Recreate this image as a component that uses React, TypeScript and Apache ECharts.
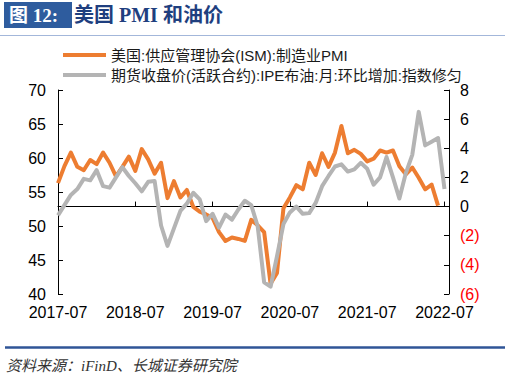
import React, { useEffect, useRef } from 'react';
import * as echarts from 'echarts';

const months = [
  '2017-07', '2017-08', '2017-09', '2017-10', '2017-11', '2017-12',
  '2018-01', '2018-02', '2018-03', '2018-04', '2018-05', '2018-06', '2018-07', '2018-08', '2018-09', '2018-10', '2018-11', '2018-12',
  '2019-01', '2019-02', '2019-03', '2019-04', '2019-05', '2019-06', '2019-07', '2019-08', '2019-09', '2019-10', '2019-11', '2019-12',
  '2020-01', '2020-02', '2020-03', '2020-04', '2020-05', '2020-06', '2020-07', '2020-08', '2020-09', '2020-10', '2020-11', '2020-12',
  '2021-01', '2021-02', '2021-03', '2021-04', '2021-05', '2021-06', '2021-07', '2021-08', '2021-09', '2021-10', '2021-11', '2021-12',
  '2022-01', '2022-02', '2022-03', '2022-04', '2022-05', '2022-06', '2022-07',
];

// 美国:供应管理协会(ISM):制造业PMI (left axis), 2017-07 .. 2022-06
const pmiValues = [
  56.3, 58.8, 60.8, 58.7, 58.2, 59.7,
  59.1, 60.8, 59.3, 57.3, 58.7, 60.2, 58.1, 61.3, 59.8, 57.7, 59.3, 54.1,
  56.6, 54.2, 55.3, 52.8, 52.1, 51.7, 51.2, 49.1, 47.8, 48.3, 48.1, 47.8,
  50.9, 50.1, 49.1, 41.5, 43.1, 52.6, 54.2, 56.0, 55.4, 59.3, 57.5, 60.7,
  58.7, 60.8, 64.7, 60.7, 61.2, 60.6, 59.5, 59.9, 61.1, 60.8, 61.1, 58.8,
  57.6, 58.6, 57.1, 55.4, 56.1, 53.0,
];

// 期货收盘价(活跃合约):IPE布油:月:环比增加:指数修匀 (right axis), 2017-07 .. 2022-07
const brentValues = [
  -0.6, 0.1, 0.8, 1.2, 1.9, 1.8,
  2.5, 1.4, 1.3, 2.0, 2.7, 2.1, 1.6, 1.05, 1.7, 1.75, -1.3, -2.7,
  -1.5, -0.3, 0.2, 0.95, 0.5, -1.0, -0.5, -1.45, -0.55, -0.9, -0.2, 0.4,
  0.1, -1.35, -5.2, -5.5, -3.4, -1.2, -0.4, 0.0, -0.5, -0.45, 0.25, 1.4,
  2.1, 2.75, 2.9, 2.4, 2.55, 3.0, 2.6, 1.5, 2.0, 3.4, 2.0, 0.55,
  2.3, 3.55, 6.5, 4.2, 4.45, 4.7, 1.2,
];

const pmiName = '美国:供应管理协会(ISM):制造业PMI';
const brentName = '期货收盘价(活跃合约):IPE布油:月:环比增加:指数修匀';
const titleLabel = '图 12:';
const titleText = '美国 PMI 和油价';
const sourceText = '资料来源：iFinD、长城证券研究院';

export default function App() {
  const ref = useRef<HTMLDivElement>(null);

  useEffect(() => {
    if (!ref.current) return;
    const chart = echarts.init(ref.current, null, { renderer: 'svg' });
    const FONT = '"Liberation Sans", Arial, "Noto Sans CJK SC", sans-serif';
    const axisColor = '#000';

    const option = {
      animation: false,
      backgroundColor: '#ffffff',
      grid: { left: 58, top: 90, width: 391, height: 204 },
      legend: {
        orient: 'vertical',
        left: 58,
        top: 40,
        itemGap: 0,
        itemWidth: 43,
        itemHeight: 4,
        icon: 'rect',
        data: [pmiName, brentName],
        textStyle: { fontSize: 15, lineHeight: 20, color: '#1a1a1a', fontFamily: FONT },
      },
      xAxis: {
        type: 'value',
        min: 0,
        max: 60.7,
        interval: 12,
        axisLine: { show: true, lineStyle: { color: axisColor, width: 1 } },
        axisTick: { show: true, inside: true, length: 5, lineStyle: { color: axisColor } },
        splitLine: { show: false },
        axisLabel: {
          fontSize: 16,
          color: '#000',
          margin: 10,
          fontFamily: FONT,
          showMaxLabel: false,
          formatter: (v: number) => (Number.isInteger(v) && v % 12 === 0 && months[v] ? months[v] : ''),
        },
      },
      yAxis: [
        {
          type: 'value',
          min: 40,
          max: 70,
          interval: 5,
          axisLine: { show: true, lineStyle: { color: axisColor, width: 1 } },
          axisTick: { show: true, inside: true, length: 5, lineStyle: { color: axisColor } },
          splitLine: { show: false },
          axisLabel: { fontSize: 16, color: '#000', margin: 12, fontFamily: FONT },
        },
        {
          type: 'value',
          position: 'right',
          min: -6,
          max: 8,
          interval: 2,
          axisLine: { show: true, lineStyle: { color: axisColor, width: 1 } },
          axisTick: { show: true, inside: true, length: 5, lineStyle: { color: axisColor } },
          splitLine: { show: false },
          axisLabel: {
            margin: 11,
            formatter: (v: number) => (v < 0 ? `{r|(${-v})}` : `{k|${v}}`),
            rich: {
              r: { color: '#ff0000', fontSize: 16, fontFamily: FONT },
              k: { color: '#000', fontSize: 16, fontFamily: FONT },
            },
          },
        },
      ],
      series: [
        {
          name: pmiName,
          type: 'line',
          yAxisIndex: 0,
          data: pmiValues.map((v, i) => [i, v]),
          symbol: 'none',
          itemStyle: { color: '#ED7D31' },
          lineStyle: { color: '#ED7D31', width: 4, join: 'round', cap: 'butt' },
        },
        {
          name: brentName,
          type: 'line',
          yAxisIndex: 1,
          data: brentValues.map((v, i) => [i, v]),
          symbol: 'none',
          itemStyle: { color: '#B4B4B4' },
          lineStyle: { color: '#B4B4B4', width: 4, join: 'round', cap: 'butt' },
        },
      ],
      graphic: [
        { type: 'rect', shape: { x: 4, y: 2, width: 68, height: 26 }, style: { fill: '#2E5C9E' } },
        {
          type: 'text',
          x: 9,
          y: 15,
          style: {
            text: titleLabel,
            fill: '#ffffff',
            font: 'bold 19px "Liberation Serif", "Noto Sans CJK SC", serif',
            verticalAlign: 'middle',
          },
        },
        {
          type: 'text',
          x: 74,
          y: 15,
          style: {
            text: titleText,
            fill: '#1F3F7F',
            font: 'bold 20px "Liberation Serif", "Noto Sans CJK SC", serif',
            verticalAlign: 'middle',
          },
        },
        { type: 'line', shape: { x1: 0, y1: 35.5, x2: 505, y2: 35.5 }, style: { stroke: '#A3B7DA', lineWidth: 1 } },
        { type: 'line', shape: { x1: 5, y1: 347.5, x2: 505, y2: 347.5 }, style: { stroke: '#2F5597', lineWidth: 2.5 } },
        {
          type: 'text',
          x: 6,
          y: 366,
          style: {
            text: sourceText,
            fill: '#333333',
            font: 'italic 15px "Liberation Serif", "Noto Sans CJK SC", serif',
            verticalAlign: 'middle',
          },
        },
      ],
    };

    chart.setOption(option as any);
    return () => {
      chart.dispose();
    };
  }, []);

  return (
    <div
      ref={ref}
      style={{ position: 'fixed', left: 0, top: 0, width: 511, height: 376, background: '#fff' }}
    />
  );
}
